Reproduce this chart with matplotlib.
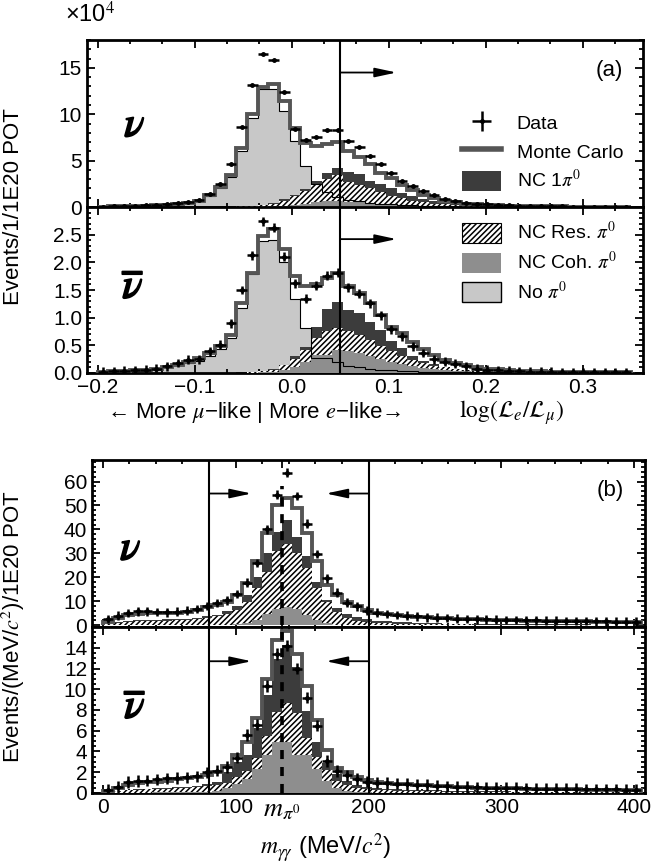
import numpy as np
import matplotlib
matplotlib.use('Agg')
import matplotlib.pyplot as plt
from matplotlib.lines import Line2D
from matplotlib.patches import Patch
from matplotlib.ticker import MultipleLocator, FixedLocator, FixedFormatter
import matplotlib.patheffects as pe

plt.rcParams['font.family'] = ['Liberation Sans', 'DejaVu Sans']
plt.rcParams['mathtext.fontset'] = 'stix'
plt.rcParams['hatch.linewidth'] = 1.1
plt.rcParams['axes.linewidth'] = 2.0

# binning of the two variables
pid_lo, pid_hi, pid_nbins = -0.2, 0.35, 50
mgg_lo, mgg_hi, mgg_nbins = 0.0, 405.0, 54
pid_cut = 0.05
mgg_cuts = [80.0, 200.0]
m_pi0 = 135.0

# ---- (a) log(Le/Lmu), neutrino mode (units of 1e4) ----
nu_a_data = [0.05, 0.07, 0.10, 0.12, 0.17, 0.22, 0.30, 0.40, 0.52, 0.80,
             1.40, 2.50, 4.60, 8.60, 13.15, 16.5, 15.9, 12.4, 8.40, 7.25,
             7.50, 8.30, 8.30, 7.07, 6.45, 5.50, 4.60, 3.70, 2.80, 2.25,
             1.70, 1.27, 0.90, 0.60, 0.45, 0.35, 0.28, 0.22, 0.18, 0.14,
             0.11, 0.09, 0.07, 0.06, 0.05, 0.04, 0.03, 0.03, 0.02, 0.02]
nu_a_mc = [0.04, 0.06, 0.08, 0.10, 0.14, 0.18, 0.25, 0.33, 0.45, 0.70,
           1.27, 2.17, 3.44, 6.34, 10.0, 12.9, 13.3, 11.4, 8.55, 6.90,
           6.55, 6.80, 7.00, 6.00, 5.40, 4.60, 3.70, 3.10, 2.35, 1.80,
           1.30, 0.95, 0.70, 0.50, 0.38, 0.30, 0.24, 0.19, 0.15, 0.12,
           0.10, 0.08, 0.07, 0.06, 0.05, 0.04, 0.03, 0.03, 0.02, 0.02]
nu_a_nopi0 = [0.03, 0.05, 0.07, 0.09, 0.13, 0.17, 0.23, 0.30, 0.42, 0.60,
              1.15, 2.00, 3.25, 6.00, 9.60, 12.7, 12.7, 10.4, 7.07, 4.40,
              2.50, 1.60, 1.10, 0.80, 0.60, 0.45, 0.35, 0.28, 0.22, 0.17,
              0.13, 0.10, 0.08, 0.06, 0.05, 0.04, 0.03, 0.03, 0.02, 0.02,
              0.01, 0.01, 0.01, 0.01, 0.01, 0.01, 0.01, 0.01, 0.01, 0.01]
nu_a_coh = [0.00, 0.00, 0.00, 0.00, 0.00, 0.00, 0.00, 0.00, 0.00, 0.00,
            0.00, 0.00, 0.00, 0.01, 0.02, 0.03, 0.06, 0.12, 0.20, 0.35,
            0.50, 0.60, 0.65, 0.55, 0.50, 0.40, 0.32, 0.25, 0.20, 0.15,
            0.11, 0.08, 0.06, 0.05, 0.04, 0.03, 0.02, 0.02, 0.01, 0.01,
            0.01, 0.01, 0.01, 0.01, 0.01, 0.00, 0.00, 0.00, 0.00, 0.00]
nu_a_res_top = [0.00, 0.00, 0.00, 0.00, 0.00, 0.00, 0.00, 0.01, 0.01, 0.02,
                0.02, 0.03, 0.03, 0.06, 0.10, 0.18, 0.36, 0.70, 1.20, 1.70,
                2.40, 3.00, 3.40, 2.70, 2.40, 2.00, 1.60, 1.20, 0.93, 0.67,
                0.50, 0.38, 0.28, 0.20, 0.15, 0.11, 0.08, 0.06, 0.05, 0.04,
                0.03, 0.02, 0.02, 0.01, 0.01, 0.01, 0.01, 0.01, 0.01, 0.01]
nu_a_pi0_top = [0.00, 0.00, 0.00, 0.00, 0.00, 0.01, 0.01, 0.01, 0.02, 0.03,
                0.03, 0.04, 0.05, 0.10, 0.15, 0.25, 0.45, 0.85, 1.35, 1.90,
                2.80, 3.70, 4.25, 3.75, 3.55, 2.85, 2.45, 2.00, 1.50, 1.20,
                0.90, 0.65, 0.48, 0.35, 0.26, 0.20, 0.15, 0.12, 0.09, 0.07,
                0.05, 0.04, 0.03, 0.03, 0.02, 0.02, 0.01, 0.01, 0.01, 0.01]
nu_a_err = 0.1

# ---- (a) antineutrino mode ----
nubar_a_data = [0.02, 0.03, 0.04, 0.05, 0.06, 0.08, 0.12, 0.18, 0.24, 0.25,
                0.39, 0.51, 0.90, 1.50, 2.13, 2.74, 2.63, 2.10, 1.62, 1.34,
                1.58, 1.76, 1.81, 1.55, 1.43, 1.26, 1.04, 0.79, 0.66, 0.48,
                0.36, 0.25, 0.20, 0.17, 0.12, 0.08, 0.06, 0.05, 0.04, 0.03,
                0.025, 0.02, 0.02, 0.015, 0.015, 0.01, 0.01, 0.01, 0.01, 0.01]
nubar_a_mc = [0.02, 0.03, 0.035, 0.045, 0.06, 0.08, 0.11, 0.15, 0.20, 0.27,
              0.36, 0.48, 0.69, 1.27, 1.81, 2.48, 2.60, 2.24, 1.75, 1.57,
              1.60, 1.72, 1.81, 1.57, 1.45, 1.27, 1.04, 0.84, 0.72, 0.56,
              0.43, 0.32, 0.24, 0.18, 0.14, 0.11, 0.08, 0.065, 0.05, 0.04,
              0.035, 0.03, 0.025, 0.02, 0.018, 0.015, 0.012, 0.01, 0.01, 0.01]
nubar_a_nopi0 = [0.015, 0.02, 0.03, 0.04, 0.05, 0.07, 0.10, 0.14, 0.18, 0.22,
                 0.31, 0.43, 0.63, 1.18, 1.79, 2.38, 2.41, 2.00, 1.33, 0.82,
                 0.27, 0.27, 0.20, 0.12, 0.10, 0.08, 0.06, 0.05, 0.04, 0.03,
                 0.025, 0.02, 0.015, 0.01, 0.01, 0.01, 0.01, 0.01, 0.01, 0.01,
                 0.01, 0.01, 0.01, 0.01, 0.01, 0.01, 0.01, 0.01, 0.01, 0.01]
nubar_a_coh = [0.00, 0.00, 0.00, 0.00, 0.00, 0.00, 0.00, 0.00, 0.00, 0.00,
               0.00, 0.00, 0.00, 0.00, 0.00, 0.01, 0.02, 0.05, 0.10, 0.20,
               0.33, 0.33, 0.42, 0.39, 0.36, 0.30, 0.25, 0.20, 0.16, 0.12,
               0.09, 0.07, 0.05, 0.04, 0.03, 0.02, 0.02, 0.01, 0.01, 0.01,
               0.01, 0.01, 0.01, 0.00, 0.00, 0.00, 0.00, 0.00, 0.00, 0.00]
nubar_a_res_top = [0.00, 0.00, 0.00, 0.00, 0.00, 0.00, 0.00, 0.00, 0.00, 0.00,
                   0.00, 0.00, 0.00, 0.00, 0.01, 0.03, 0.06, 0.15, 0.25, 0.42,
                   0.63, 0.75, 0.82, 0.76, 0.68, 0.60, 0.48, 0.39, 0.30, 0.24,
                   0.18, 0.13, 0.10, 0.07, 0.05, 0.04, 0.03, 0.02, 0.02, 0.01,
                   0.01, 0.01, 0.01, 0.01, 0.01, 0.01, 0.01, 0.01, 0.01, 0.01]
nubar_a_pi0_top = [0.00, 0.00, 0.00, 0.00, 0.00, 0.00, 0.00, 0.00, 0.00, 0.00,
                   0.00, 0.00, 0.00, 0.01, 0.02, 0.04, 0.07, 0.12, 0.30, 0.47,
                   0.84, 1.15, 1.28, 1.13, 1.08, 0.93, 0.78, 0.57, 0.45, 0.30,
                   0.22, 0.16, 0.11, 0.08, 0.06, 0.04, 0.03, 0.02, 0.02, 0.01,
                   0.01, 0.01, 0.01, 0.01, 0.01, 0.01, 0.01, 0.01, 0.01, 0.01]
nubar_a_err = 0.08

# ---- (b) m_gg, neutrino mode ----
nu_b_data = [2.5, 4.0, 5.0, 5.7, 5.7, 5.4, 5.3, 5.6, 6.1, 6.8,
             8.0, 9.2, 10.4, 13.0, 17.8, 26.0, 40.0, 54.5, 63.7, 54.0,
             42.4, 29.8, 19.6, 13.6, 9.4, 7.8, 6.0, 5.2, 4.7, 4.3,
             3.9, 3.6, 3.3, 3.1, 2.9, 2.75, 2.6, 2.45, 2.35, 2.25,
             2.15, 2.1, 2.0, 1.95, 1.85, 1.8, 1.75, 1.7, 1.65, 1.6,
             1.55, 1.5, 1.45, 1.4]
nu_b_mc = [1.5, 3.0, 4.2, 4.8, 5.0, 5.0, 5.0, 5.2, 5.6, 6.3,
           7.5, 8.6, 9.8, 12.6, 17.5, 26.6, 38.5, 50.4, 53.2, 49.0,
           38.5, 26.6, 16.8, 12.6, 9.8, 7.8, 6.2, 5.1, 4.6, 4.2,
           3.8, 3.5, 3.2, 3.0, 2.8, 2.65, 2.5, 2.35, 2.25, 2.15,
           2.05, 2.0, 1.9, 1.85, 1.75, 1.7, 1.65, 1.6, 1.55, 1.5,
           1.45, 1.4, 1.35, 1.3]
nu_b_coh = [0.0, 0.02, 0.03, 0.04, 0.05, 0.05, 0.05, 0.06, 0.07, 0.08,
            0.1, 0.12, 0.15, 0.3, 1.0, 2.1, 4.5, 6.7, 7.7, 6.7,
            4.2, 2.1, 0.8, 0.2, 0.1, 0.05, 0.04, 0.03, 0.02, 0.02,
            0.02, 0.02, 0.01, 0.01, 0.01, 0.01, 0.01, 0.01, 0.01, 0.01,
            0.01, 0.01, 0.01, 0.01, 0.01, 0.01, 0.01, 0.01, 0.01, 0.01,
            0.01, 0.01, 0.01, 0.01]
nu_b_res_top = [0.3, 0.9, 1.4, 1.7, 1.8, 1.8, 1.9, 2.0, 2.2, 2.5,
                3.0, 3.6, 4.8, 6.3, 9.8, 15.4, 22.4, 30.8, 33.9, 30.0,
                23.8, 15.4, 9.8, 5.6, 2.8, 1.8, 1.3, 1.0, 0.8, 0.65,
                0.55, 0.45, 0.4, 0.35, 0.3, 0.28, 0.26, 0.24, 0.22, 0.2,
                0.19, 0.18, 0.17, 0.16, 0.15, 0.14, 0.13, 0.12, 0.12, 0.11,
                0.11, 0.1, 0.1, 0.1]
nu_b_pi0_top = [0.4, 1.1, 1.8, 2.2, 2.3, 2.3, 2.4, 2.5, 2.7, 3.0,
                3.6, 4.4, 5.8, 8.0, 12.6, 20.0, 30.0, 39.0, 44.0, 37.0,
                29.0, 18.0, 10.5, 7.0, 4.5, 3.2, 2.4, 1.9, 1.6, 1.3,
                1.1, 0.95, 0.85, 0.75, 0.65, 0.6, 0.55, 0.5, 0.45, 0.42,
                0.4, 0.38, 0.36, 0.34, 0.32, 0.3, 0.28, 0.27, 0.26, 0.25,
                0.24, 0.23, 0.22, 0.21]
nu_b_err = 1.8

# ---- (b) antineutrino mode ----
nubar_b_data = [0.3, 0.6, 1.05, 1.15, 1.2, 1.3, 1.4, 1.45, 1.5, 1.6,
                2.0, 2.15, 2.5, 3.4, 5.6, 6.6, 10.3, 13.4, 14.2, 12.0,
                9.2, 6.5, 3.1, 2.1, 1.7, 1.35, 1.1, 1.0, 0.95, 0.9,
                0.85, 0.8, 0.75, 0.7, 0.65, 0.6, 0.58, 0.55, 0.52, 0.5,
                0.48, 0.46, 0.44, 0.42, 0.4, 0.4, 0.38, 0.37, 0.36, 0.35,
                0.35, 0.34, 0.33, 0.32]
nubar_b_mc = [0.2, 0.5, 0.8, 0.95, 1.05, 1.1, 1.2, 1.3, 1.4, 1.55,
              1.75, 2.0, 2.6, 3.7, 4.9, 7.2, 11.0, 14.7, 15.6, 13.4,
              10.3, 7.0, 4.1, 2.4, 2.0, 1.5, 1.25, 1.1, 1.0, 0.9,
              0.85, 0.8, 0.75, 0.7, 0.65, 0.6, 0.55, 0.52, 0.5, 0.47,
              0.45, 0.43, 0.41, 0.4, 0.38, 0.36, 0.35, 0.34, 0.33, 0.32,
              0.31, 0.3, 0.29, 0.28]
nubar_b_coh = [0.0, 0.01, 0.02, 0.03, 0.04, 0.05, 0.05, 0.06, 0.08, 0.1,
               0.12, 0.2, 0.5, 0.9, 1.3, 2.3, 3.7, 4.9, 4.9, 3.7,
               3.7, 2.3, 1.2, 0.5, 0.2, 0.1, 0.05, 0.04, 0.03, 0.02,
               0.02, 0.02, 0.01, 0.01, 0.01, 0.01, 0.01, 0.01, 0.01, 0.01,
               0.01, 0.01, 0.01, 0.01, 0.01, 0.01, 0.01, 0.01, 0.01, 0.01,
               0.01, 0.01, 0.01, 0.01]
nubar_b_res_top = [0.05, 0.15, 0.25, 0.3, 0.35, 0.4, 0.42, 0.45, 0.5, 0.55,
                   0.65, 0.8, 1.0, 1.5, 2.1, 3.4, 5.5, 7.8, 8.65, 7.75,
                   5.3, 3.5, 2.2, 1.2, 0.75, 0.5, 0.4, 0.3, 0.25, 0.22,
                   0.2, 0.18, 0.16, 0.15, 0.14, 0.13, 0.12, 0.11, 0.1, 0.1,
                   0.09, 0.09, 0.08, 0.08, 0.07, 0.07, 0.07, 0.06, 0.06, 0.06,
                   0.05, 0.05, 0.05, 0.05]
nubar_b_pi0_top = [0.1, 0.2, 0.3, 0.35, 0.4, 0.45, 0.5, 0.55, 0.6, 0.7,
                   0.9, 1.1, 2.0, 3.0, 3.7, 6.3, 9.4, 12.9, 14.3, 12.1,
                   7.9, 4.9, 2.9, 1.8, 1.2, 0.8, 0.6, 0.45, 0.4, 0.35,
                   0.3, 0.28, 0.26, 0.24, 0.22, 0.2, 0.19, 0.18, 0.17, 0.16,
                   0.15, 0.14, 0.13, 0.12, 0.12, 0.11, 0.11, 0.1, 0.1, 0.1,
                   0.09, 0.09, 0.09, 0.08]
nubar_b_err = 0.55

C_MC = '#555555'
C_1PI = '#3c3c3c'
C_COH = '#8e8e8e'
C_NOPI = '#c8c8c8'
HATCH = '//////'
ARROW = dict(arrowstyle='-|>,head_length=1.3,head_width=0.28', lw=1.3, color='black',
             mutation_scale=10, shrinkA=0, shrinkB=0)


def draw_panel(ax, edges, data, err, mc, coh, res_top, pi0_top, nopi0=None):
    x = 0.5 * (edges[:-1] + edges[1:])
    hw = 0.5 * np.diff(edges)
    if nopi0 is not None:
        ax.stairs(nopi0, edges, fill=True, color=C_NOPI, lw=0, zorder=1)
    ax.stairs(pi0_top, edges, fill=True, color=C_1PI, lw=0, zorder=2)
    ax.stairs(res_top, edges, fill=True, facecolor='white', edgecolor='black',
              hatch=HATCH, lw=0, zorder=3)
    ax.stairs(coh, edges, fill=True, color=C_COH, lw=0, zorder=4)
    if nopi0 is not None:
        ax.stairs(nopi0, edges, color='black', lw=0.8, zorder=5)
    ax.stairs(mc, edges, color=C_MC, lw=2.8, zorder=6)
    eb = ax.errorbar(x, data, xerr=hw, yerr=err, fmt='o', ms=2.5, color='black',
                     elinewidth=1.8, capsize=0, zorder=9, label='Data')
    return eb


def style(ax, xminor, yminor):
    ax.xaxis.set_minor_locator(MultipleLocator(xminor))
    ax.yaxis.set_minor_locator(MultipleLocator(yminor))
    ax.tick_params(which='both', direction='in', top=True, right=True,
                   labelsize=15, width=1.3)
    ax.tick_params(which='major', length=6)
    ax.tick_params(which='minor', length=3)


def nu_label(ax, x, y, bar=False):
    s = r'$\overline{\nu}$' if bar else r'$\nu$'
    ax.text(x, y, s, transform=ax.transAxes, fontsize=30, ha='center', va='center',
            path_effects=[pe.withStroke(linewidth=1.3, foreground='black')], zorder=10)


fig = plt.figure(figsize=(6.52, 8.67), dpi=100)
ax_a1 = fig.add_axes([0.1334, 0.7612, 0.8528, 0.1926])
ax_a2 = fig.add_axes([0.1334, 0.5698, 0.8528, 0.1914], sharex=ax_a1)
ax_b1 = fig.add_axes([0.1411, 0.2768, 0.8482, 0.1926])
ax_b2 = fig.add_axes([0.1411, 0.0854, 0.8482, 0.1914], sharex=ax_b1)

edges_a = np.linspace(pid_lo, pid_hi, pid_nbins + 1)
edges_b = np.linspace(mgg_lo, mgg_hi, mgg_nbins + 1)

eb = draw_panel(ax_a1, edges_a, nu_a_data, nu_a_err, nu_a_mc, nu_a_coh,
                nu_a_res_top, nu_a_pi0_top, nu_a_nopi0)
draw_panel(ax_a2, edges_a, nubar_a_data, nubar_a_err, nubar_a_mc, nubar_a_coh,
           nubar_a_res_top, nubar_a_pi0_top, nubar_a_nopi0)
draw_panel(ax_b1, edges_b, nu_b_data, nu_b_err, nu_b_mc, nu_b_coh,
           nu_b_res_top, nu_b_pi0_top)
draw_panel(ax_b2, edges_b, nubar_b_data, nubar_b_err, nubar_b_mc, nubar_b_coh,
           nubar_b_res_top, nubar_b_pi0_top)

# (a) axes
ax_a1.set_xlim(-0.211, 0.362)
ax_a1.set_ylim(0, 18)
ax_a2.set_ylim(0, 3.0)
ax_a1.xaxis.set_major_locator(MultipleLocator(0.1))
ax_a1.yaxis.set_major_locator(MultipleLocator(5))
ax_a2.yaxis.set_major_locator(FixedLocator([0, 0.5, 1.0, 1.5, 2.0, 2.5]))
ax_a2.yaxis.set_major_formatter(FixedFormatter(['0.0', '0.5', '1.0', '1.5', '2.0', '2.5']))
style(ax_a1, 0.1 / 3, 1)
style(ax_a2, 0.1 / 3, 0.1)
ax_a1.tick_params(labelbottom=False)

for ax, ya in [(ax_a1, 14.5), (ax_a2, 2.42)]:
    ax.axvline(pid_cut, color='black', lw=1.5, zorder=8)
    ax.annotate('', xy=(0.108, ya), xytext=(pid_cut, ya), arrowprops=ARROW, zorder=8)

# (b) axes
ax_b1.set_xlim(-8, 408)
ax_b1.set_ylim(-0.8, 69)
ax_b2.set_ylim(0, 16)
ax_b1.xaxis.set_major_locator(FixedLocator([0, 100, m_pi0, 200, 300, 400]))
ax_b1.xaxis.set_major_formatter(FixedFormatter(['0', '100', r'$m_{\pi^0}$', '200', '300', '400']))
ax_b1.yaxis.set_major_locator(FixedLocator([0, 10, 20, 30, 40, 50, 60]))
ax_b2.yaxis.set_major_locator(FixedLocator([0, 2, 4, 6, 8, 10, 12, 14]))
style(ax_b1, 20, 2)
style(ax_b2, 20, 0.5)
ax_b1.tick_params(labelbottom=False)
fig.canvas.draw()
ax_b2.get_xticklabels()[2].set_fontsize(19)

for ax, ya, ytop in [(ax_b1, 55, 58), (ax_b2, 12.7, 15.5)]:
    for c in mgg_cuts:
        ax.axvline(c, color='black', lw=1.5, zorder=8)
    ax.annotate('', xy=(112, ya), xytext=(mgg_cuts[0], ya), arrowprops=ARROW, zorder=8)
    ax.annotate('', xy=(168, ya), xytext=(mgg_cuts[1], ya), arrowprops=ARROW, zorder=8)
    ax.vlines(m_pi0, 0, ytop, colors='black', lw=2.6, linestyles=(0, (2.5, 2.2)), zorder=8)

# labels
nu_label(ax_a1, 0.086, 0.49)
nu_label(ax_a2, 0.083, 0.52, bar=True)
nu_label(ax_b1, 0.07, 0.47)
nu_label(ax_b2, 0.078, 0.52, bar=True)

ax_a1.text(0.94, 0.82, '(a)', transform=ax_a1.transAxes, fontsize=16, ha='center', va='center')
ax_b1.text(0.937, 0.82, '(b)', transform=ax_b1.transAxes, fontsize=16, ha='center', va='center')

fig.text(0.1, 0.983, '\u00d710$^4$', fontsize=17, ha='left', va='center')
fig.text(0.02, 0.762, 'Events/1/1E20 POT', rotation=90, fontsize=16, ha='center', va='center')
fig.text(0.02, 0.277, 'Events/(MeV/$c^2$)/1E20 POT', rotation=90, fontsize=16,
         ha='center', va='center')
fig.text(0.39, 0.524, '\u2190 More $\\mu$\u2212like | More $e$\u2212like\u2192', fontsize=16,
         ha='center', va='center')
fig.text(0.785, 0.524, r'$\log(\mathcal{L}_e/\mathcal{L}_\mu)$', fontsize=17,
         ha='center', va='center')
fig.text(0.5, 0.022, r'$m_{\gamma\gamma}$ (MeV/$c^2$)', fontsize=17, ha='center', va='center')

# legends
h_mc = Line2D([], [], color=C_MC, lw=4)
h_1pi = Patch(facecolor=C_1PI, edgecolor='none')
h_res = Patch(facecolor='white', edgecolor='black', hatch=HATCH, lw=0.8)
h_coh = Patch(facecolor=C_COH, edgecolor='none')
h_no = Patch(facecolor=C_NOPI, edgecolor='black', lw=1.0)
leg_kw = dict(loc='upper left', frameon=False, fontsize=14, handlelength=2.0,
              handleheight=1.2, labelspacing=0.4, borderpad=0, borderaxespad=0,
              handletextpad=0.8)
leg1 = ax_a1.legend([eb, h_mc, h_1pi], ['Data', 'Monte Carlo', r'NC 1$\pi^0$'],
                    bbox_to_anchor=(0.675, 0.565), **leg_kw)
leg2 = ax_a2.legend([h_res, h_coh, h_no], [r'NC Res. $\pi^0$', r'NC Coh. $\pi^0$', r'No $\pi^0$'],
                    bbox_to_anchor=(0.675, 0.915), **leg_kw)
leg1.set_zorder(20)
leg2.set_zorder(20)

fig.savefig('out.png', dpi=100)
